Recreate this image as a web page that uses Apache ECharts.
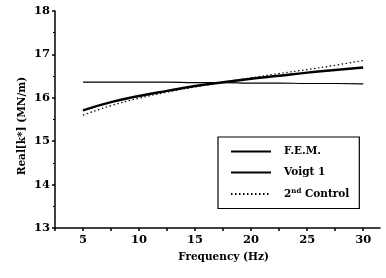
<!DOCTYPE html>
<html><head><meta charset="utf-8">
<script src="https://cdn.jsdelivr.net/npm/echarts@6/dist/echarts.min.js"></script>
<style>html,body{margin:0;padding:0;background:#fff;}#c{width:386px;height:278px;}</style>
</head><body><div id="c"></div>
<script>
const freq = [5, 7.5, 10, 12.5, 15, 17.5, 20, 22.5, 25, 27.5, 30];
const femValues = [15.71, 15.90, 16.04, 16.16, 16.27, 16.36, 16.44, 16.51, 16.58, 16.64, 16.70];
const voigtValues = [16.36, 16.36, 16.36, 16.36, 16.35, 16.35, 16.34, 16.34, 16.33, 16.33, 16.32];
const controlValues = [15.60, 15.82, 15.99, 16.13, 16.25, 16.36, 16.46, 16.56, 16.65, 16.75, 16.86];
const seriesNames = ['F.E.M.', 'Voigt 1', '2nd Control'];

const font = '"DejaVu Serif", "Liberation Serif", serif';
const pair = (xs, ys) => xs.map((x, i) => [x, ys[i]]);
const chart = echarts.init(document.getElementById('c'), null, {renderer: 'canvas'});
chart.setOption({
  animation: false,
  backgroundColor: '#fff',
  grid: {left: 55, right: 6, top: 11, bottom: 50},
  xAxis: {
    type: 'value', min: 2.5, max: 31.5, interval: 2.5,
    axisLine: {lineStyle: {color: '#000', width: 1.5}},
    axisTick: {inside: false, length: 3, lineStyle: {color: '#000', width: 1.5}},
    axisLabel: {color: '#000', fontFamily: font, fontWeight: 'bold', fontSize: 11.5, margin: 6,
      formatter: v => (Math.abs(v % 5) < 1e-9 ? String(v) : ''), showMaxLabel: false},
    splitLine: {show: false},
    name: 'Frequency (Hz)', nameLocation: 'middle', nameGap: 24,
    nameTextStyle: {color: '#000', fontFamily: font, fontWeight: 'bold', fontSize: 10.5, padding: [0, 0, 0, 12]}
  },
  yAxis: {
    type: 'value', min: 13, max: 18, interval: 1,
    axisLine: {show: true, lineStyle: {color: '#000', width: 1.5}},
    axisTick: {show: true, length: 3, lineStyle: {color: '#000', width: 1.5}},
    minorTick: {show: true, splitNumber: 2, length: 2, lineStyle: {color: '#000', width: 1}},
    axisLabel: {color: '#000', fontFamily: font, fontWeight: 'bold', fontSize: 11.5, margin: 5},
    splitLine: {show: false}
  },
  legend: {
    orient: 'vertical', left: 218, top: 137, width: 135,
    padding: [9, 10, 9, 12], itemGap: 10,
    borderColor: '#000', borderWidth: 1.2,
    itemWidth: 40, itemHeight: 10,
    itemStyle: {opacity: 0},
    data: seriesNames,
    textStyle: {color: '#000', fontFamily: font, fontWeight: 'bold', fontSize: 10.5, padding: [0, 0, 0, 8],
      rich: {sup: {fontSize: 7, fontWeight: 'bold', fontFamily: font, verticalAlign: 'top', padding: [0, 0, 5, 0]},
             n: {fontSize: 10.5, fontWeight: 'bold', fontFamily: font}}},
    formatter: name => name === '2nd Control' ? '{n|2}{sup|nd}{n| Control}' : name
  },
  graphic: [{
    type: 'text', rotation: Math.PI / 2,
    style: {text: 'Real[k*] (MN/m)', fill: '#000', font: 'bold 10.5px ' + font, textAlign: 'center', textVerticalAlign: 'middle'},
    x: 22, y: 126
  }],
  series: [
    {name: seriesNames[0], type: 'line', data: pair(freq, femValues), smooth: true, symbol: 'none',
      itemStyle: {color: '#000'}, lineStyle: {color: '#000', width: 2.5}, z: 3},
    {name: seriesNames[1], type: 'line', data: pair(freq, voigtValues), smooth: true, symbol: 'none',
      itemStyle: {color: '#000'}, lineStyle: {color: '#000', width: 1.2}, z: 2},
    {name: seriesNames[2], type: 'line', data: pair(freq, controlValues), smooth: true, symbol: 'none',
      itemStyle: {color: '#000'}, lineStyle: {color: '#000', width: 1.2, type: [1.5, 2.5]}, z: 4}
  ]
});
</script></body></html>
